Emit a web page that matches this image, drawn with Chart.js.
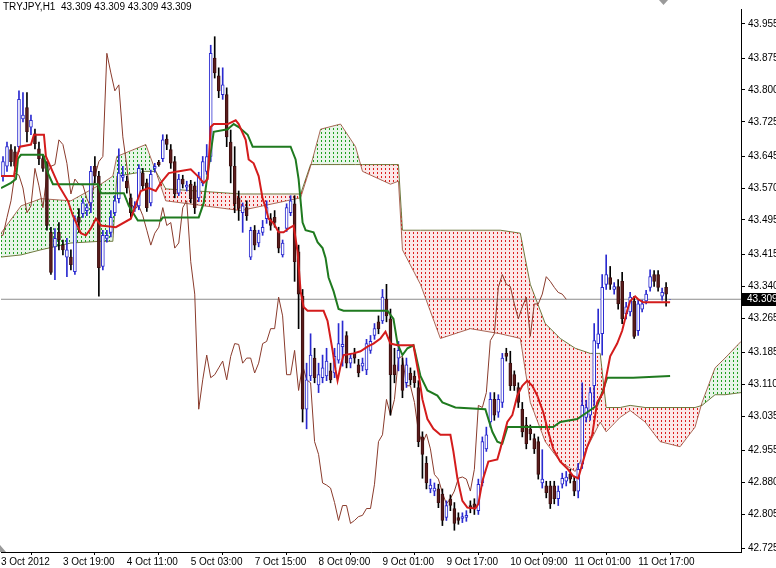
<!DOCTYPE html>
<html>
<head>
<meta charset="utf-8">
<script src="https://cdn.jsdelivr.net/npm/chart.js@4.4.0/dist/chart.umd.min.js"></script>
<style>
  html, body { margin: 0; padding: 0; background: #fff; }
</style>
</head>
<body>
<canvas id="chart" width="776" height="568"></canvas>
<script>
// TRYJPY H1 with Ichimoku, 3-11 Oct 2012
const symbolTitle = 'TRYJPY,H1  43.309 43.309 43.309 43.309';
const lastPrice = 43.309;

const timeLabels = ['3 Oct 2012', '3 Oct 19:00', '4 Oct 11:00', '5 Oct 03:00', '7 Oct 15:00', '8 Oct 09:00',
                    '9 Oct 01:00', '9 Oct 17:00', '10 Oct 09:00', '11 Oct 01:00', '11 Oct 17:00'];
const timeLabelBars = [-0.5, 15, 31, 47, 63, 79, 95, 111, 127, 143, 159];
const priceTicks = ['42.725', '42.805', '42.880', '42.955', '43.035', '43.110', '43.185', '43.265', '43.340',
                    '43.415', '43.495', '43.570', '43.645', '43.725', '43.800', '43.875', '43.955'];

// hourly candles
const opens = [
  43.598, 43.621, 43.660, 43.655, 43.667, 43.732, 43.759, 43.713, 43.697, 43.662,
  43.639, 43.625, 43.466, 43.432, 43.466, 43.436, 43.408, 43.408, 43.374, 43.501,
  43.510, 43.517, 43.535, 43.621, 43.598, 43.386, 43.452, 43.466, 43.512, 43.545,
  43.595, 43.586, 43.547, 43.522, 43.528, 43.605, 43.582, 43.535, 43.616, 43.630,
  43.639, 43.685, 43.660, 43.632, 43.558, 43.591, 43.572, 43.579, 43.575, 43.547,
  43.582, 43.609, 43.644, 43.875, 43.833, 43.789, 43.789, 43.678, 43.621, 43.547,
  43.512, 43.524, 43.408, 43.471, 43.441, 43.466, 43.498, 43.498, 43.501, 43.466,
  43.413, 43.475, 43.512, 43.533, 43.420, 43.316, 43.051, 43.129, 43.171, 43.108,
  43.125, 43.129, 43.141, 43.136, 43.166, 43.198, 43.224, 43.159, 43.182, 43.155,
  43.152, 43.143, 43.189, 43.224, 43.256, 43.258, 43.309, 43.263, 43.155, 43.171,
  43.155, 43.113, 43.136, 43.129, 43.102, 42.986, 42.924, 42.864, 42.859, 42.864,
  42.852, 42.797, 42.841, 42.818, 42.797, 42.795, 42.797, 42.825, 42.829, 42.813,
  42.878, 42.958, 43.021, 43.074, 43.044, 43.067, 43.182, 43.159, 43.132, 43.102,
  43.051, 43.014, 43.005, 42.982, 42.975, 42.878, 42.871, 42.871, 42.871, 42.841,
  42.875, 42.882, 42.898, 42.882, 42.859, 42.922, 43.032, 43.037, 43.106, 43.205,
  43.228, 43.344, 43.360, 43.332, 43.339, 43.351, 43.275, 43.279, 43.305, 43.235,
  43.286, 43.305, 43.337, 43.367, 43.367, 43.316, 43.337, 43.309
];
const highs = [
  43.644, 43.678, 43.672, 43.667, 43.798, 43.794, 43.794, 43.741, 43.708, 43.678,
  43.648, 43.632, 43.478, 43.475, 43.489, 43.448, 43.452, 43.425, 43.505, 43.522,
  43.545, 43.533, 43.621, 43.644, 43.609, 43.471, 43.471, 43.517, 43.552, 43.662,
  43.621, 43.598, 43.556, 43.538, 43.625, 43.616, 43.591, 43.612, 43.628, 43.635,
  43.695, 43.695, 43.672, 43.644, 43.602, 43.600, 43.586, 43.588, 43.584, 43.607,
  43.644, 43.672, 43.905, 43.925, 43.852, 43.852, 43.805, 43.706, 43.667, 43.563,
  43.535, 43.540, 43.478, 43.482, 43.471, 43.494, 43.540, 43.510, 43.517, 43.478,
  43.448, 43.533, 43.552, 43.552, 43.436, 43.332, 43.159, 43.228, 43.194, 43.159,
  43.178, 43.194, 43.159, 43.194, 43.252, 43.258, 43.233, 43.182, 43.194, 43.168,
  43.171, 43.215, 43.224, 43.252, 43.270, 43.332, 43.344, 43.286, 43.194, 43.210,
  43.171, 43.171, 43.148, 43.141, 43.118, 42.998, 42.940, 42.887, 42.878, 42.875,
  42.864, 42.836, 42.850, 42.832, 42.808, 42.808, 42.813, 42.836, 42.841, 42.887,
  42.986, 43.009, 43.090, 43.090, 43.085, 43.182, 43.194, 43.187, 43.141, 43.113,
  43.067, 43.032, 43.014, 42.993, 42.986, 42.956, 42.882, 42.882, 42.882, 42.871,
  42.901, 42.905, 42.910, 42.894, 42.924, 43.113, 43.072, 43.102, 43.252, 43.286,
  43.367, 43.413, 43.386, 43.348, 43.355, 43.372, 43.302, 43.325, 43.316, 43.307,
  43.307, 43.330, 43.378, 43.376, 43.376, 43.335, 43.348, 43.309
];
const lows = [
  43.586, 43.609, 43.621, 43.609, 43.655, 43.725, 43.678, 43.695, 43.662, 43.625,
  43.609, 43.471, 43.367, 43.355, 43.425, 43.413, 43.362, 43.378, 43.367, 43.466,
  43.501, 43.505, 43.512, 43.582, 43.316, 43.378, 43.443, 43.455, 43.505, 43.535,
  43.586, 43.558, 43.501, 43.515, 43.519, 43.565, 43.515, 43.528, 43.607, 43.621,
  43.632, 43.660, 43.616, 43.547, 43.552, 43.570, 43.563, 43.535, 43.510, 43.538,
  43.575, 43.602, 43.632, 43.828, 43.782, 43.778, 43.667, 43.582, 43.512, 43.494,
  43.466, 43.494, 43.402, 43.425, 43.432, 43.459, 43.487, 43.471, 43.478, 43.418,
  43.408, 43.468, 43.505, 43.351, 43.240, 43.021, 43.005, 43.118, 43.113, 43.090,
  43.113, 43.118, 43.113, 43.125, 43.159, 43.152, 43.148, 43.148, 43.159, 43.127,
  43.141, 43.132, 43.182, 43.215, 43.228, 43.252, 43.256, 43.037, 43.113, 43.141,
  43.078, 43.102, 43.108, 43.102, 42.963, 42.889, 42.864, 42.855, 42.848, 42.820,
  42.778, 42.790, 42.813, 42.767, 42.781, 42.785, 42.788, 42.808, 42.804, 42.804,
  42.871, 42.952, 43.009, 43.025, 43.032, 43.055, 43.164, 43.095, 43.095, 43.055,
  42.986, 42.958, 42.979, 42.947, 42.887, 42.866, 42.843, 42.818, 42.829, 42.825,
  42.866, 42.871, 42.878, 42.848, 42.843, 42.912, 43.021, 43.025, 43.060, 43.194,
  43.178, 43.332, 43.332, 43.321, 43.286, 43.252, 43.263, 43.270, 43.217, 43.224,
  43.279, 43.298, 43.328, 43.339, 43.328, 43.307, 43.293, 43.309
];
const closes = [
  43.632, 43.667, 43.632, 43.621, 43.778, 43.741, 43.702, 43.729, 43.674, 43.639,
  43.616, 43.482, 43.372, 43.452, 43.448, 43.425, 43.425, 43.390, 43.498, 43.489,
  43.535, 43.524, 43.609, 43.598, 43.383, 43.459, 43.459, 43.501, 43.540, 43.605,
  43.600, 43.570, 43.512, 43.528, 43.616, 43.575, 43.524, 43.602, 43.621, 43.625,
  43.683, 43.672, 43.628, 43.556, 43.591, 43.579, 43.577, 43.545, 43.524, 43.598,
  43.632, 43.644, 43.886, 43.840, 43.798, 43.812, 43.690, 43.621, 43.533, 43.522,
  43.528, 43.505, 43.471, 43.436, 43.464, 43.478, 43.524, 43.482, 43.489, 43.429,
  43.441, 43.524, 43.540, 43.397, 43.321, 43.051, 43.120, 43.178, 43.125, 43.132,
  43.148, 43.164, 43.120, 43.175, 43.205, 43.203, 43.159, 43.171, 43.171, 43.136,
  43.159, 43.205, 43.210, 43.240, 43.240, 43.314, 43.270, 43.132, 43.132, 43.189,
  43.095, 43.155, 43.120, 43.113, 42.975, 42.945, 42.878, 42.873, 42.866, 42.832,
  42.790, 42.825, 42.825, 42.783, 42.790, 42.799, 42.802, 42.818, 42.818, 42.875,
  42.975, 42.991, 43.074, 43.037, 43.074, 43.171, 43.175, 43.106, 43.106, 43.067,
  42.998, 42.970, 42.993, 42.958, 42.898, 42.887, 42.855, 42.829, 42.841, 42.859,
  42.889, 42.892, 42.887, 42.859, 42.910, 43.060, 43.055, 43.090, 43.212, 43.228,
  43.337, 43.367, 43.344, 43.339, 43.298, 43.263, 43.291, 43.314, 43.222, 43.298,
  43.298, 43.321, 43.362, 43.351, 43.337, 43.325, 43.321, 43.309
];

// Tenkan-sen (red), vertices read at bar positions
const tenkanBars = [-0.5, 2.75, 3.5, 4.25, 7, 7.75, 10.25, 10.75, 14, 16.25, 17.5, 19.5, 20.75, 22, 23.25, 24.5,
  28.25, 32, 34.5, 36.5, 38.25, 39.5, 41.5, 43.75, 47, 48.75, 50.25, 51.25, 52, 52.75, 56.25, 58.25, 59, 60.75,
  61.5, 62.75, 64, 65, 65.75, 66.5, 67.75, 69, 70.25, 71.5, 72.75, 73.75, 74.5, 75.25, 76.25, 80.25, 81.25,
  82.5, 83.25, 83.75, 84.5, 85.25, 87.75, 89.5, 91.25, 92.75, 94.5, 95.75, 97, 98.75, 102.75, 104, 105, 106.25,
  107.75, 109.5, 112, 112.75, 113.75, 115, 116.25, 118.25, 119, 120, 121.5, 123.75, 124.5, 126.25, 127.5,
  128.75, 130, 131.25, 132.5, 133.75, 135.25, 136.5, 137.75, 139.5, 141.25, 142.75, 144, 145, 146.25, 147.5,
  148.75, 150.25, 152, 153.75, 155, 156.25, 157, 158.25, 159, 160.25, 167];
const tenkan = [43.598, 43.598, 43.644, 43.667, 43.672, 43.695, 43.695, 43.644, 43.575, 43.540, 43.505, 43.464,
  43.459, 43.475, 43.498, 43.482, 43.478, 43.498, 43.563, 43.570, 43.563, 43.582, 43.605, 43.609, 43.614, 43.598,
  43.582, 43.591, 43.713, 43.720, 43.720, 43.729, 43.720, 43.683, 43.637, 43.628, 43.598, 43.545, 43.524, 43.498,
  43.487, 43.466, 43.466, 43.475, 43.482, 43.420, 43.328, 43.291, 43.282, 43.282, 43.258, 43.189, 43.143, 43.118,
  43.152, 43.178, 43.182, 43.187, 43.198, 43.205, 43.217, 43.233, 43.205, 43.201, 43.201, 43.136, 43.074, 43.028,
  43.005, 42.991, 42.991, 42.952, 42.889, 42.836, 42.820, 42.818, 42.829, 42.882, 42.928, 42.933, 42.958, 43.021,
  43.037, 43.083, 43.106, 43.118, 43.106, 43.083, 43.044, 42.998, 42.958, 42.928, 42.912, 42.894, 42.889, 42.922,
  42.963, 42.991, 43.067, 43.090, 43.175, 43.205, 43.235, 43.282, 43.305, 43.316, 43.309, 43.302, 43.302];

// Kijun-sen (green)
const kijunBars = [-0.5, 2, 3.25, 3.75, 4.5, 10, 10.25, 11.25, 12.5, 23.75, 24.5, 30.25, 31.5, 33.75, 39.5, 40, 49,
  50.25, 51.5, 52.75, 56.25, 57.75, 59, 61.25, 62.5, 72, 73.25, 74, 75, 75.75, 77.75, 78.75, 80, 80.75, 81.5,
  82.75, 84, 85.25, 96.25, 97.75, 98.75, 100, 101.25, 102.75, 103.25, 104.5, 106.25, 108.75, 110, 113.25, 120.75,
  122.5, 123.75, 125, 126.25, 137.75, 139.5, 143.75, 146.25, 148.75, 150, 151.25, 157.75, 167];
const kijun = [43.570, 43.582, 43.591, 43.639, 43.648, 43.648, 43.644, 43.605, 43.579, 43.579, 43.558, 43.558,
  43.528, 43.494, 43.494, 43.501, 43.501, 43.535, 43.621, 43.702, 43.708, 43.720, 43.713, 43.695, 43.667, 43.667,
  43.637, 43.591, 43.489, 43.471, 43.466, 43.443, 43.429, 43.406, 43.360, 43.328, 43.286, 43.282, 43.282, 43.263,
  43.205, 43.178, 43.194, 43.201, 43.182, 43.129, 43.095, 43.083, 43.067, 43.055, 43.051, 42.998, 42.975, 42.970,
  43.009, 43.009, 43.021, 43.028, 43.044, 43.060, 43.090, 43.125, 43.125, 43.129];

// Senkou span A / B (the cloud), already drawn 26 bars ahead
const cloudBars = [-0.5, 4.5, 9.5, 17, 24.5, 27.5, 28.5, 35.75, 38.25, 40.75, 59.5, 74.5, 77, 79.5, 84.5, 88.25,
  90, 97, 99, 100, 104.5, 109.5, 117, 124.5, 129.5, 132, 135.75, 139.5, 143.25, 147, 149.5, 151, 154.5, 157,
  160.75, 164.5, 169.5, 173.25, 175, 178.25, 180.75, 184.75];
const spanA = [43.464, 43.528, 43.545, 43.540, 43.579, 43.598, 43.644, 43.672, 43.609, 43.540, 43.517, 43.547,
  43.621, 43.708, 43.720, 43.667, 43.609, 43.579, 43.586, 43.425, 43.344, 43.217, 43.240, 43.228, 43.217, 43.067,
  42.975, 42.928, 42.905, 42.975, 43.021, 42.998, 43.032, 43.048, 43.021, 42.975, 42.963, 43.009, 43.067, 43.148,
  43.171, 43.210];
const spanB = [43.408, 43.413, 43.425, 43.441, 43.445, 43.445, 43.598, 43.609, 43.609, 43.568, 43.556, 43.556,
  43.625, 43.625, 43.625, 43.625, 43.625, 43.625, 43.625, 43.471, 43.471, 43.471, 43.471, 43.471, 43.464, 43.344,
  43.252, 43.217, 43.194, 43.182, 43.182, 43.055, 43.055, 43.060, 43.055, 43.055, 43.055, 43.055, 43.060, 43.085,
  43.085, 43.090];
const chikouShift = 26;

const FONT = { family: '"Liberation Sans", Arial, sans-serif', size: 10 };

// dotted hatch used for the kumo: faint tint plus short vertical dashes
function hatch(rgb) {
  const c = document.createElement('canvas');
  c.width = 4; c.height = 4;
  const cx = c.getContext('2d');
  cx.fillStyle = 'rgba(' + rgb + ',0.10)';
  cx.fillRect(0, 0, 4, 4);
  cx.fillStyle = 'rgb(' + rgb + ')';
  cx.fillRect(1, 0, 1, 2);
  return cx.createPattern(c, 'repeat');
}

const pts = (xs, ys) => xs.map((x, i) => ({ x: x, y: ys[i] }));
const isBull = opens.map((o, i) => closes[i] >= o);

const overlay = {
  id: 'overlay',
  afterDraw(chart) {
    const ctx = chart.ctx;
    const area = chart.chartArea;
    const py = Math.round(chart.scales.y.getPixelForValue(lastPrice));
    ctx.save();
    ctx.font = '10px "Liberation Sans", Arial, sans-serif';
    ctx.textBaseline = 'middle';
    ctx.textAlign = 'left';
    ctx.fillStyle = '#000';
    ctx.fillText(symbolTitle, 3, 7);
    ctx.fillRect(area.right + 1, py - 6, 35, 13);
    ctx.fillStyle = '#fff';
    ctx.fillText(lastPrice.toFixed(3), area.right + 6, py + 0.5);
    // chart shift markers
    ctx.fillStyle = '#9a9a9a';
    ctx.beginPath();
    ctx.moveTo(659, 0); ctx.lineTo(668, 0); ctx.lineTo(663.5, 5); ctx.closePath();
    ctx.fill();
    ctx.beginPath();
    ctx.moveTo(0, area.bottom - 7); ctx.lineTo(6, area.bottom); ctx.lineTo(0, area.bottom); ctx.closePath();
    ctx.fill();
    ctx.restore();
  }
};

new Chart(document.getElementById('chart'), {
  type: 'bar',
  data: {
    datasets: [
      {
        type: 'line', label: 'Senkou A', order: 10,
        data: pts(cloudBars, spanA),
        borderColor: 'rgba(150,70,50,0.8)', borderWidth: 1, pointRadius: 0,
        fill: { target: '+1', above: hatch('30,160,30'), below: hatch('220,30,30') }
      },
      {
        type: 'line', label: 'Senkou B', order: 10,
        data: pts(cloudBars, spanB),
        borderColor: 'rgba(95,110,45,0.9)', borderWidth: 1, pointRadius: 0, fill: false
      },
      {
        type: 'line', label: 'price', order: 9,
        data: [{ x: -0.5, y: lastPrice }, { x: 184.75, y: lastPrice }],
        borderColor: '#8c8c8c', borderWidth: 1, pointRadius: 0
      },
      {
        type: 'line', label: 'Chikou', order: 8,
        data: closes.map((c, i) => ({ x: i - chikouShift, y: c })),
        borderColor: '#8a3b2c', borderWidth: 1, pointRadius: 0
      },
      {
        label: 'wick', order: 7, grouped: false,
        data: highs.map((h, i) => ({ x: i, y: [lows[i], h] })),
        backgroundColor: isBull.map(b => b ? '#2a2ad0' : '#000'),
        barThickness: 1, borderWidth: 0
      },
      {
        label: 'body', order: 6, grouped: false,
        data: opens.map((o, i) => ({ x: i, y: [o, closes[i]] })),
        backgroundColor: isBull.map(b => b ? '#ffffff' : '#5b1c1c'),
        borderColor: isBull.map(b => b ? '#2a2ad0' : '#3b0f0f'),
        borderWidth: 1, borderSkipped: false, barThickness: 3
      },
      {
        type: 'line', label: 'Kijun', order: 5,
        data: pts(kijunBars, kijun),
        borderColor: '#1f7a1f', borderWidth: 2, pointRadius: 0
      },
      {
        type: 'line', label: 'Tenkan', order: 4,
        data: pts(tenkanBars, tenkan),
        borderColor: '#d41c1c', borderWidth: 2, pointRadius: 0
      }
    ]
  },
  options: {
    responsive: false,
    animation: false,
    layout: { padding: 0 },
    plugins: { legend: { display: false }, tooltip: { enabled: false } },
    scales: {
      x: {
        type: 'linear', min: -0.5, max: 184.75, offset: false,
        afterBuildTicks: s => { s.ticks = timeLabelBars.map(v => ({ value: v })); },
        afterFit: s => { s.height = 16; },
        ticks: {
          autoSkip: false, maxRotation: 0, align: 'start', padding: 1, color: '#000', font: FONT,
          callback: (v, i) => timeLabels[i]
        },
        grid: { drawOnChartArea: false, tickLength: 3, color: '#000' },
        border: { display: true, color: '#000' }
      },
      y: {
        type: 'linear', position: 'right', min: 42.716, max: 43.990,
        afterBuildTicks: s => { s.ticks = priceTicks.map(t => ({ value: parseFloat(t) })); },
        afterFit: s => { s.width = 35; },
        ticks: { padding: 3, color: '#000', font: FONT, callback: (v, i) => priceTicks[i] },
        grid: { drawOnChartArea: false, tickLength: 4, color: '#000' },
        border: { display: true, color: '#000' }
      }
    }
  },
  plugins: [overlay]
});
</script>
</body>
</html>
